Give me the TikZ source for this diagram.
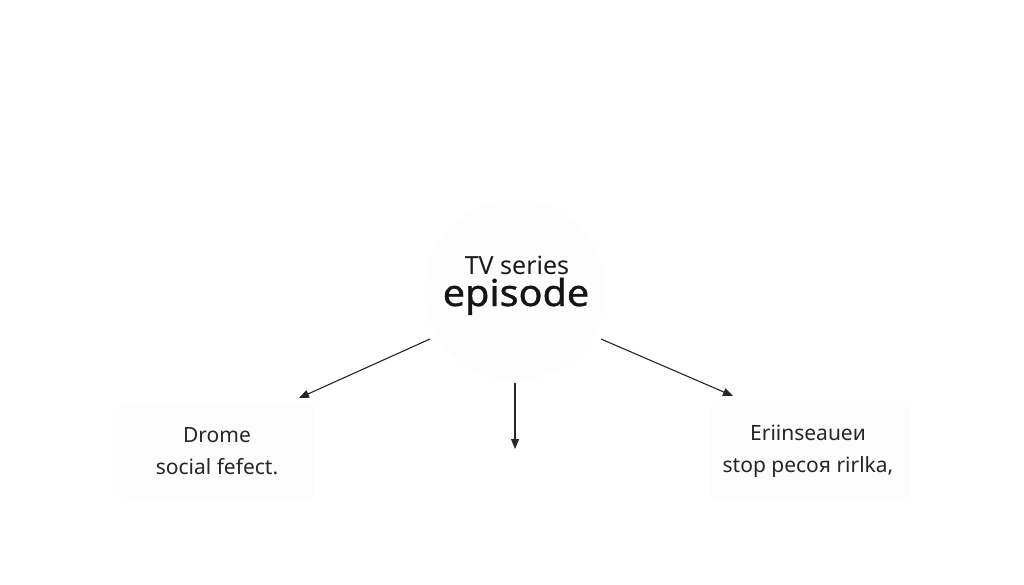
\documentclass[tikz,border=0pt]{standalone}
\usepackage{fontspec}
\setmainfont{Noto Sans}
\usetikzlibrary{arrows.meta}
\begin{document}
\begin{tikzpicture}[x=1pt,y=-1pt,
  lbl/.style={font=\fontsize{21}{32}\selectfont, align=center, text=black!85, inner sep=0pt},
  faintbox/.style={fill=black!1.2, draw=none, rounded corners=4pt},
  conn/.style={draw=black!85, line width=1.1pt, -{Triangle[length=10pt,width=8pt]}}]
\useasboundingbox[fill=white] (0,0) rectangle (1024,585);
\fill[black!0.6] (515,290) circle (90);
\node[faintbox, minimum width=195pt, minimum height=92pt] (lbox) at (217,451) {};
\node[faintbox, minimum width=200pt, minimum height=90pt] (rbox) at (810,452) {};
\node[inner sep=0pt, anchor=base, font=\fontsize{25}{28}\selectfont, text=black!90] (tv) at (517,274) {TV series};
\node[inner sep=0pt, anchor=base, font=\fontsize{37}{40}\selectfont\addfontfeature{FakeBold=0.9,FakeStretch=1.07}, text=black!92] (ep) at (516,306) {episode};
\node[lbl] (left) at (217,451) {Drome\\social fefect.};
\node[lbl] (right) at (808,451) {Eriinseaueи\\stop pecoя rirlka,};
\coordinate (a1s) at (430,339);
\coordinate (a1e) at (299,398);
\coordinate (a2s) at (601,339);
\coordinate (a2e) at (733,396);
\coordinate (a3s) at (515,383);
\coordinate (a3e) at (515,449);
\draw[conn] (a1s) -- (a1e);
\draw[conn] (a2s) -- (a2e);
\draw[conn] (a3s) -- (a3e);
\end{tikzpicture}
\end{document}
